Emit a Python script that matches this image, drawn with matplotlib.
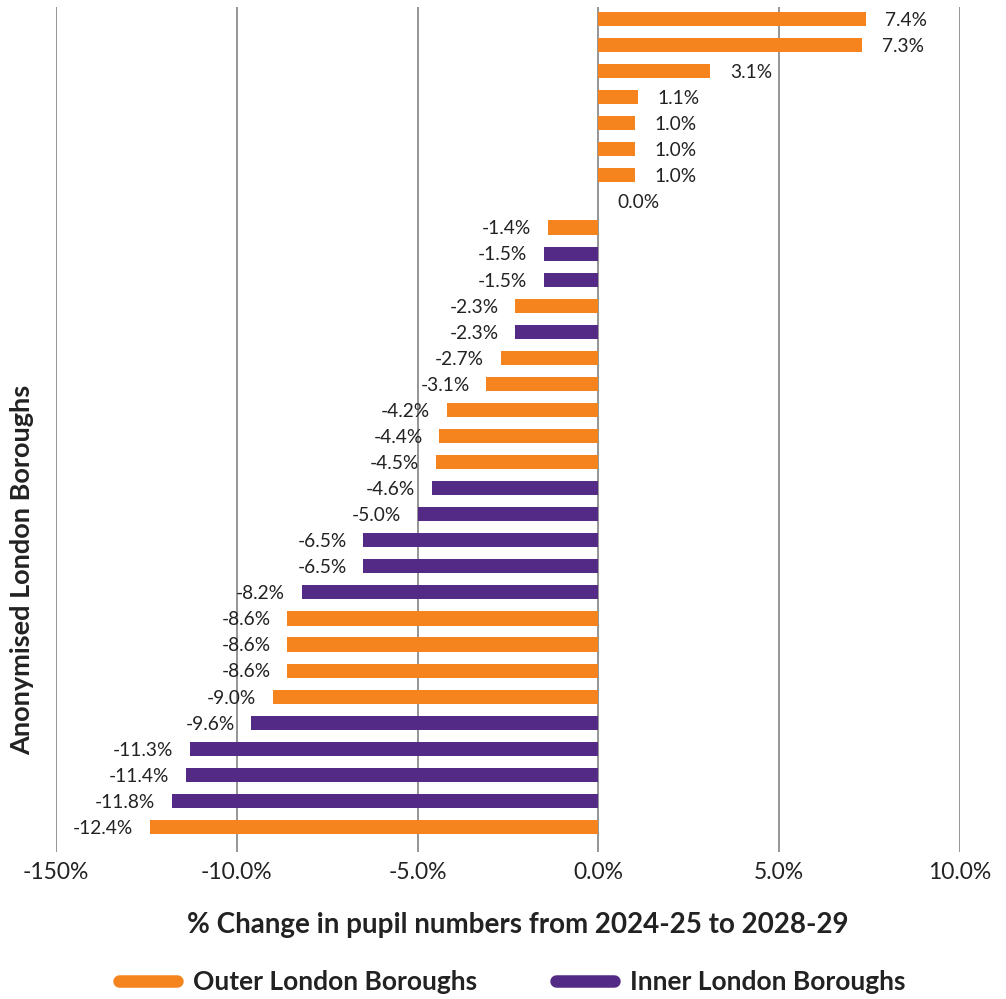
import matplotlib.pyplot as plt
from matplotlib.lines import Line2D

plt.rcParams['font.family'] = ['Lato', 'DejaVu Sans']

ORANGE = '#F5841F'
PURPLE = '#532A85'

# one row per anonymised borough, top to bottom
values = [7.4, 7.3, 3.1, 1.1, 1.0, 1.0, 1.0, 0.0,
          -1.4, -1.5, -1.5, -2.3, -2.3, -2.7, -3.1,
          -4.2, -4.4, -4.5, -4.6, -5.0,
          -6.5, -6.5, -8.2,
          -8.6, -8.6, -8.6, -9.0, -9.6,
          -11.3, -11.4, -11.8, -12.4]
groups = ['O', 'O', 'O', 'O', 'O', 'O', 'O', 'O',
          'O', 'I', 'I', 'O', 'I', 'O', 'O',
          'O', 'O', 'O', 'I', 'I',
          'I', 'I', 'I',
          'O', 'O', 'O', 'O', 'I',
          'I', 'I', 'I', 'O']
xticks = [-15, -10, -5, 0, 5, 10]
xtick_labels = ['-150%', '-10.0%', '-5.0%', '0.0%', '5.0%', '10.0%']


def do_plot():
    fig = plt.figure(figsize=(10.06, 9.99), dpi=100)
    ax = fig.add_axes([56 / 1006, 1 - 852 / 999, 904 / 1006, 845 / 999])

    colors = [ORANGE if g == 'O' else PURPLE for g in groups]
    ypos = list(range(len(values)))
    ax.barh(ypos, values, height=0.54, color=colors, zorder=3)

    for y, v in zip(ypos, values):
        if v >= 0:
            ax.annotate('%.1f%%' % v, (v, y), xytext=(14, -1), textcoords='offset points',
                        ha='left', va='center', fontsize=13.8, color='#222222')
        else:
            ax.annotate('%.1f%%' % v, (v, y), xytext=(-12, -1), textcoords='offset points',
                        ha='right', va='center', fontsize=13.8, color='#222222')

    ax.set_xlim(-15, 10)
    ax.set_ylim(31.96, -0.46)
    ax.set_xticks(xticks)
    ax.set_xticklabels(xtick_labels, fontsize=16.5, color='#222222')
    ax.set_yticks([])
    ax.tick_params(axis='x', length=0, pad=7)
    ax.grid(axis='x', color='#8c8c8c', linewidth=1.3, zorder=0)
    for s in ax.spines.values():
        s.set_visible(False)

    fig.text(518 / 1006, 1 - 925 / 999, '% Change in pupil numbers from 2024-25 to 2028-29',
             ha='center', va='center', fontsize=20, fontweight='bold', color='#222222')
    fig.text(22 / 1006, 1 - 570 / 999, 'Anonymised London Boroughs', rotation=90,
             ha='center', va='center', fontsize=19.5, fontweight='bold', color='#222222')

    handles = [Line2D([0], [0], color=ORANGE, lw=9, solid_capstyle='round'),
               Line2D([0], [0], color=PURPLE, lw=9, solid_capstyle='round')]
    fig.legend(handles, ['Outer London Boroughs', 'Inner London Boroughs'],
               loc='center', bbox_to_anchor=(512 / 1006, 1 - 982 / 999), ncol=2,
               frameon=False, handlelength=2.2, columnspacing=3.0, handletextpad=0.6,
               prop={'size': 19, 'weight': 'bold'})
    for t in fig.legends[0].get_texts():
        t.set_color('#222222')

    plt.savefig('out.png', dpi=100)


if __name__ == '__main__':
    do_plot()
